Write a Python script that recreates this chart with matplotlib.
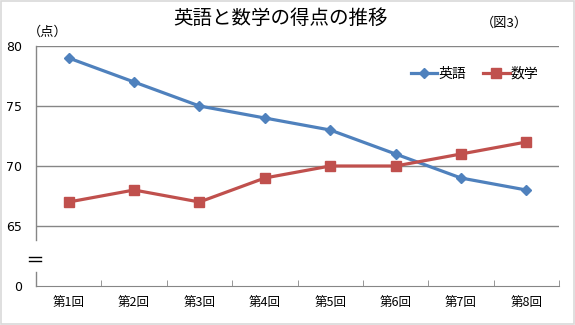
import numpy as np
import matplotlib
matplotlib.use("Agg")
import matplotlib.pyplot as plt
from matplotlib.patches import Rectangle

plt.rcParams['font.family'] = ['Noto Sans CJK JP', 'DejaVu Sans']

rounds = ['第1回', '第2回', '第3回', '第4回', '第5回', '第6回', '第7回', '第8回']
english = [79, 77, 75, 74, 73, 71, 69, 68]
math_sc = [67, 68, 67, 69, 70, 70, 71, 72]
# broken axis: 60 stands in for 0
ytick_vals = [60, 65, 70, 75, 80]
ytick_labels = ['0', '65', '70', '75', '80']

blue = '#4F81BD'
red = '#C0504D'
grey = '#868686'

fig = plt.figure(figsize=(5.75, 3.25), dpi=100)
fig.patches.append(Rectangle((0.001, 0.002), 0.997, 0.995, transform=fig.transFigure,
                             fill=False, edgecolor='#d9d9d9', lw=1.2))
ax = fig.add_axes([36/575, 1-286/325, 523/575, 240/325])

x = np.arange(len(rounds))
ax.plot(x, english, color=blue, lw=2.3, marker='D', ms=5.5, label='英語', zorder=3)
ax.plot(x, math_sc, color=red, lw=2.3, marker='s', ms=6.5, label='数学', zorder=3)

ax.set_xlim(-0.5, 7.5)
ax.set_ylim(60, 80)
for v in [65, 70, 75, 80]:
    ax.axhline(v, color=grey, lw=1, zorder=1)

ax.set_yticks(ytick_vals)
ax.set_yticklabels(ytick_labels, fontsize=9, family=['DejaVu Sans'])
ax.tick_params(axis='y', length=0, pad=10)
ax.set_xticks(x)
ax.set_xticklabels(rounds, fontsize=9)
ax.set_xticks(np.arange(0.5, 8, 1), minor=True)
ax.tick_params(axis='x', which='major', length=0, pad=7)
ax.tick_params(axis='x', which='minor', direction='in', length=4, color=grey)

for s in ['top', 'right', 'left']:
    ax.spines[s].set_visible(False)
ax.spines['bottom'].set_color(grey)

# left axis in two pieces with a break mark
ax.plot([0, 0], [(63.8-60)/20, 1], transform=ax.transAxes, color=grey, lw=1, clip_on=False)
ax.plot([0, 0], [0, (61.2-60)/20], transform=ax.transAxes, color=grey, lw=1, clip_on=False)
for yy in [257, 261]:
    fig.add_artist(plt.Line2D([29/575, 41/575], [1-yy/325, 1-yy/325], color='black', lw=1))

fig.text(281/575, 1-18/325, '英語と数学の得点の推移', fontsize=14, ha='center', va='center')
fig.text(504/575, 1-23/325, '（図3）', fontsize=9.5, ha='center', va='center')
fig.text(48/575, 1-32/325, '（点）', fontsize=9.5, ha='center', va='center')

ax.legend(loc='upper right', bbox_to_anchor=(0.985, 0.965), ncol=2, frameon=False,
          fontsize=10, handlelength=1.9, handletextpad=0.1, columnspacing=1.2)

fig.savefig('out.png', dpi=100)
